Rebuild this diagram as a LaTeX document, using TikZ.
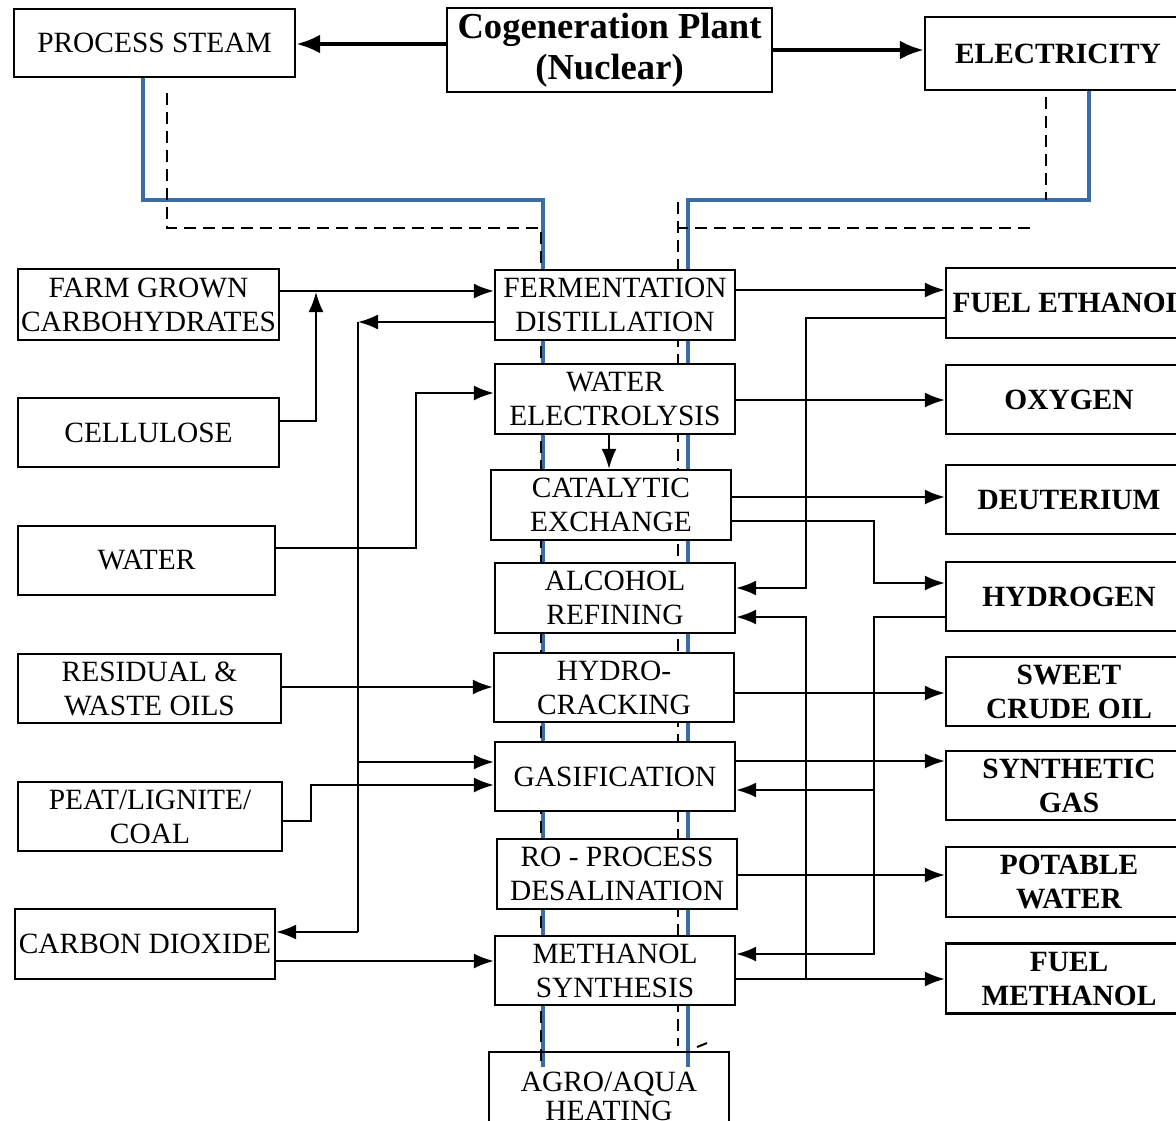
\documentclass[tikz,border=0pt]{standalone}
\usepackage{fontspec}
\setmainfont{Liberation Serif}
\usetikzlibrary{arrows.meta,backgrounds}
\definecolor{heatblue}{HTML}{3A6DA6}

\tikzset{
  box/.style={draw,line width=1.2pt,fill=white,inner sep=0pt,align=center,
    minimum width=120pt,minimum height=35pt,font=\fontsize{14.7}{17}\selectfont},
  outbox/.style={box,minimum width=123pt,font=\fontsize{14.7}{17}\selectfont\bfseries},
  link/.style={line width=1pt},
  conn/.style={link,-{Latex[length=10pt,width=7.5pt]}},
  bigarrow/.style={line width=2pt,-{Latex[length=12pt,width=9.5pt]}},
  heatline/.style={heatblue,line width=2.2pt},
  feedline/.style={line width=1.3pt,dash pattern=on 6pt off 3.5pt},
}

\begin{document}
\begin{tikzpicture}[x=0.5pt,y=-0.5pt]
\useasboundingbox (0,0) rectangle (1176,1120);

% plant and its two outputs
\node[box,minimum width=162.5pt,minimum height=42pt,
  font=\fontsize{18.3}{20.5}\selectfont\bfseries] (cogen) at (609.5,50) {Cogeneration Plant\\(Nuclear)};
\node[box,minimum width=140.5pt,minimum height=34pt] (steam) at (154.5,43) {PROCESS STEAM};
\node[outbox,minimum width=133pt,minimum height=36.5pt] (elecy) at (1058,53.5) {ELECTRICITY};

% feed stocks
\node[box,minimum width=130.5pt,minimum height=35.5pt] (farm) at (148.5,304.5) {FARM GROWN\\CARBOHYDRATES};
\node[box,minimum width=130.5pt,minimum height=34.5pt] (cell) at (148.5,432.5) {CELLULOSE};
\node[box,minimum width=128.5pt,minimum height=34.5pt] (water) at (146.5,560.5) {WATER};
\node[box,minimum width=131.5pt,minimum height=34.5pt] (resid) at (149.5,688.5) {RESIDUAL \&\\WASTE OILS};
\node[box,minimum width=132pt,minimum height=34.5pt] (peat) at (150,816.5) {PEAT/LIGNITE/\\COAL};
\node[box,minimum width=130pt] (co2) at (145,944) {CARBON DIOXIDE};

% processes
\node[box] (ferm) at (615,305) {FERMENTATION\\DISTILLATION};
\node[box] (welec) at (615,399) {WATER\\ELECTROLYSIS};
\node[box] (cat) at (611,505) {CATALYTIC\\EXCHANGE};
\node[box] (alc) at (615,598) {ALCOHOL\\REFINING};
\node[box,minimum height=34.5pt] (hydro) at (614,687.5) {HYDRO-\\CRACKING};
\node[box,minimum height=34.5pt] (gas) at (615,776.5) {GASIFICATION};
\node[box] (ro) at (617,874) {RO - PROCESS\\DESALINATION};
\node[box,minimum height=34.5pt] (meth) at (615,970.5) {METHANOL\\SYNTHESIS};
\node[box,fill=none,minimum height=44pt,font=\fontsize{14.7}{14.5}\selectfont] (agro) at (609,1096) {AGRO/AQUA\\HEATING};

% products
\node[outbox] (eth) at (1069,303) {FUEL ETHANOL};
\node[outbox,minimum height=34.5pt] (oxy) at (1069,399.5) {OXYGEN};
\node[outbox,minimum height=34.5pt] (deut) at (1069,499.5) {DEUTERIUM};
\node[outbox,minimum height=34.5pt] (hyd) at (1069,596.5) {HYDROGEN};
\node[outbox,minimum height=34.5pt] (sweet) at (1069,691.5) {SWEET\\CRUDE OIL};
\node[outbox,minimum height=34.5pt] (syn) at (1069,785.5) {SYNTHETIC\\GAS};
\node[outbox] (pot) at (1069,882) {POTABLE\\WATER};
\node[outbox] (fmeth) at (1069,978.5) {FUEL\\METHANOL};

% steam and power feeds behind the process column
\begin{scope}[on background layer]
\draw[heatline] (steam.south -| 143,0) -- (143,200) -- (543,200) -- (543,1067);
\draw[heatline] (elecy.south -| 1089,0) -- (1089,200) -- (688,200) -- (688,1067);
\draw[feedline] (167,93) -- (167,228) -- (541,228) -- (541,1066);
\draw[feedline] (1046,97) -- (1046,200);
\draw[feedline] (1030,228) -- (678,228);
\draw[feedline] (678,202) -- (678,1046);
\draw[line width=1pt] (697,1047) -- (707,1043);
\end{scope}

\draw[bigarrow] (cogen.west |- 0,44) -- (steam.east |- 0,44);
\draw[bigarrow] (cogen.east |- 0,50) -- (elecy.west |- 0,50);

% left side
\draw[conn] (farm.east |- 0,291) -- (ferm.west |- 0,291);
\draw[conn] (cell.east |- 0,421) -- (316,421) -- (316,292);
\draw[conn] (ferm.west |- 0,322) -- (358,322);
\draw[link] (358,322) -- (358,932);
\draw[conn] (358,932) -- (co2.east |- 0,932);
\draw[conn] (358,762) -- (gas.west |- 0,762);
\draw[conn] (water.east |- 0,548) -- (416,548) -- (416,393) -- (welec.west |- 0,393);
\draw[conn] (resid.east |- 0,687) -- (hydro.west |- 0,687);
\draw[conn] (peat.east |- 0,821) -- (311,821) -- (311,785) -- (gas.west |- 0,785);
\draw[conn] (co2.east |- 0,961) -- (meth.west |- 0,961);
\draw[conn] (welec.south -| 609,0) -- (cat.north -| 609,0);

% right side
\draw[conn] (ferm.east |- 0,290) -- (eth.west |- 0,290);
\draw[conn] (eth.west |- 0,318) -- (806,318) -- (806,588) -- (alc.east |- 0,588);
\draw[conn] (welec.east |- 0,400) -- (oxy.west |- 0,400);
\draw[conn] (cat.east |- 0,497) -- (deut.west |- 0,497);
\draw[conn] (cat.east |- 0,521) -- (874,521) -- (874,583) -- (hyd.west |- 0,583);
\draw[conn] (hyd.west |- 0,617) -- (874,617) -- (874,954) -- (meth.east |- 0,954);
\draw[conn] (874,790) -- (gas.east |- 0,790);
\draw[conn] (806,979) -- (806,617) -- (alc.east |- 0,617);
\draw[conn] (hydro.east |- 0,693) -- (sweet.west |- 0,693);
\draw[conn] (gas.east |- 0,761) -- (syn.west |- 0,761);
\draw[conn] (ro.east |- 0,875) -- (pot.west |- 0,875);
\draw[conn] (meth.east |- 0,979) -- (fmeth.west |- 0,979);
\end{tikzpicture}
\end{document}
